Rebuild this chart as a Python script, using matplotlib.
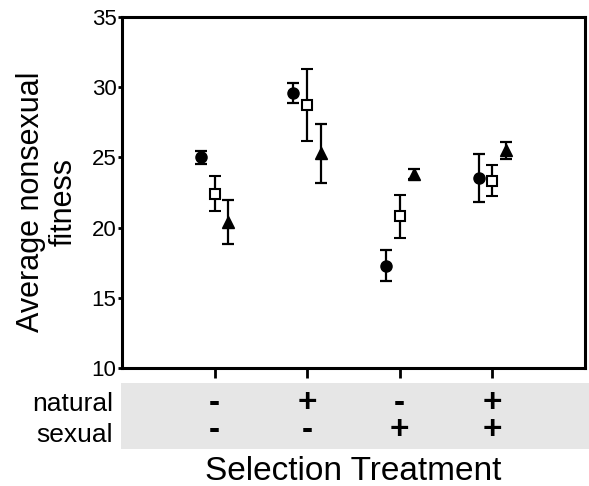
import matplotlib
matplotlib.use("Agg")
import matplotlib.pyplot as plt
import matplotlib.transforms as mtransforms
from matplotlib.patches import Rectangle

plt.rcParams["font.family"] = ["Liberation Sans", "DejaVu Sans"]

# treatment groups (x positions 1..4)
groups = [1, 2, 3, 4]
natural_sel = ["-", "+", "-", "+"]
sexual_sel = ["-", "-", "+", "+"]

# three series: filled circle, open square, filled triangle
circle_mean = [25.0, 29.6, 17.3, 23.55]
circle_err = [0.45, 0.7, 1.1, 1.7]
square_mean = [22.4, 28.75, 20.8, 23.35]
square_err = [1.25, 2.55, 1.55, 1.1]
triangle_mean = [20.4, 25.3, 23.8, 25.5]
triangle_err = [1.6, 2.1, 0.35, 0.6]

yticks = [10, 15, 20, 25, 30, 35]

W, H = 589, 486
fig = plt.figure(figsize=(W / 100, H / 100), dpi=100)
ax = fig.add_axes([122 / W, 1 - 368 / H, 463 / W, 351 / H])

# ── data series ──────────────────────────────────────────────────────────────
err_kw = dict(ecolor="black", elinewidth=1.6, capsize=4, capthick=1.6, linestyle="none", zorder=3)
ax.errorbar([g - 0.15 for g in groups], circle_mean, yerr=circle_err,
            fmt="o", color="black", markersize=8, **err_kw)
ax.errorbar(groups, square_mean, yerr=square_err,
            fmt="s", markerfacecolor="white", markeredgecolor="black",
            markeredgewidth=1.5, markersize=6.5, **err_kw)
ax.errorbar([g + 0.15 for g in groups], triangle_mean, yerr=triangle_err,
            fmt="^", color="black", markersize=8.5, **err_kw)

# ── axes styling ─────────────────────────────────────────────────────────────
ax.set_xlim(0, 5)
ax.set_ylim(10, 35)
ax.set_yticks(yticks)
ax.set_xticks(groups)
ax.set_xticklabels([])
for s in ax.spines.values():
    s.set_linewidth(2.2)
ax.tick_params(axis="y", labelsize=16, length=3, width=2, pad=1)
ax.tick_params(axis="x", length=7, width=2, direction="out")

fig.text(47 / W, 1 - 202 / H, "Average nonsexual\nfitness", rotation=90,
         ha="center", va="center", fontsize=22, linespacing=1.1)

# ── treatment table under the axis ───────────────────────────────────────────
fig.patches.append(Rectangle((121 / W, 1 - 449 / H), (W - 121) / W, 66 / H,
                             transform=fig.transFigure, facecolor="#e6e6e6",
                             edgecolor="none", zorder=-1))
fig.text(113 / W, 1 - 410.5 / H, "natural", ha="right", va="baseline", fontsize=19)
fig.text(113 / W, 1 - 441.5 / H, "sexual", ha="right", va="baseline", fontsize=19)

# one text per column keeps the +/- pair aligned
trans = mtransforms.blended_transform_factory(ax.transData, fig.transFigure)
for g, nat, sex in zip(groups, natural_sel, sexual_sel):
    fig.text(g, 1 - 417 / H, f"{nat}\n{sex}", transform=trans, ha="center",
             va="center", multialignment="center", fontsize=24,
             fontweight="bold", linespacing=0.82, zorder=5)

fig.text(353 / W, 1 - 480 / H, "Selection Treatment", ha="center", va="baseline",
         fontsize=24)

fig.savefig("out.png", dpi=100, facecolor="white")
